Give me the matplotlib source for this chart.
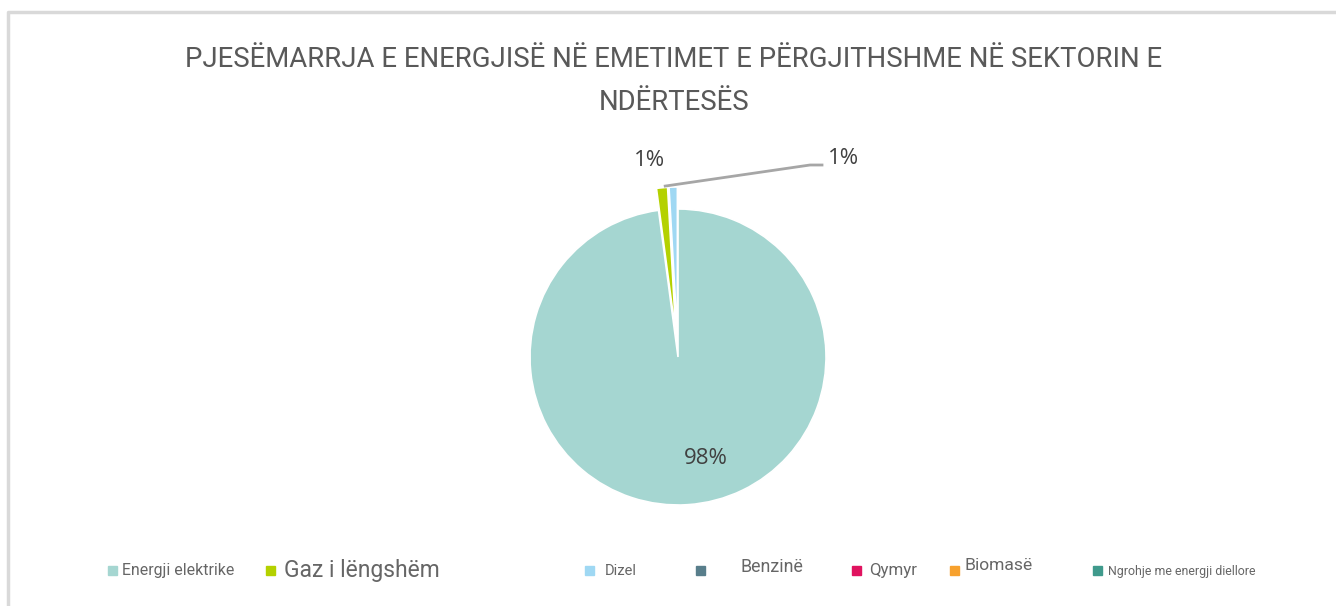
import matplotlib
matplotlib.use("Agg")
import numpy as np
import matplotlib.pyplot as plt
from matplotlib.patches import Rectangle

# data
categories = ["Energji elektrike", "Gaz i lëngshëm", "Dizel", "Benzinë",
              "Qymyr", "Biomasë", "Ngrohje me energji diellore"]
shares = [97.9, 1.2, 0.9, 0.0, 0.0, 0.0, 0.0]
labels_pct = ["98%", "1%", "1%"]
colors = ["#a5d6d1", "#b4d100", "#9fd8f3", "#587e8b", "#e0135f", "#f7a12e", "#3f9a8c"]

title = "PJESËMARRJA E ENERGJISË NË EMETIMET E PËRGJITHSHME NË SEKTORIN E\nNDËRTESËS"

W, H = 1336, 606
fig = plt.figure(figsize=(W / 100, H / 100), dpi=100)
ax = fig.add_axes([0, 0, 1, 1])

# chart frame (top and left edges only visible)
ax.plot([8, 8, W], [0, H - 12, H - 12], color="#d9d9d9", lw=2.5, solid_capstyle="butt")

fig.text(0.5045, 1 - 81 / H, title, ha="center", va="center", fontsize=19.8,
         color="#595959", family="Roboto", linespacing=1.75)

cx, cy, r = 678, H - 357, 148
nz = [v for v in shares if v > 0]
wedges, _ = ax.pie(nz, colors=colors[:len(nz)], startangle=90, counterclock=False,
                   radius=r, center=(cx, cy), explode=[0, 22, 22],
                   wedgeprops=dict(edgecolor="white", linewidth=1.2), frame=True)
ax.set_xlim(0, W)
ax.set_ylim(0, H)
ax.set_aspect("auto")
ax.axis("off")

lab_font = dict(fontsize=16, color="#404040", family="Open Sans", ha="center", va="center")
ax.text(706, H - 458, labels_pct[0], **lab_font)
ax.text(650, H - 160, labels_pct[1], **lab_font)
ax.text(843, H - 158, labels_pct[2], **lab_font)

# leader line for the Dizel slice, from the tip of the exploded slices
w = wedges[2]
th = np.deg2rad((w.theta1 + w.theta2) / 2)
sx, sy = w.center[0] + w.r * np.cos(th), w.center[1] + w.r * np.sin(th)
ax.plot([sx - 8, 810, 822], [sy + 1, H - 165, H - 165], color="#a6a6a6", lw=2)

# legend (hand placed, mixed sizes as in the original)
leg_pos = [(108, 122, 11.4), (266, 284, 16.5), (585, 605, 10.5), (696, 740, 12.8),
           (852, 869, 12.2), (950, 965, 12.6), (1093, 1108, 8.9)]
leg_y = [571, 571, 571, 567, 571, 566, 571]
for (bx, tx, fs), yy, name, c in zip(leg_pos, leg_y, categories, colors):
    ax.add_patch(Rectangle((bx, H - 575), 9, 9, color=c))
    ax.text(tx, H - yy, name, fontsize=fs, color="#666666", family="Roboto",
            ha="left", va="center")

fig.savefig("out.png", dpi=100)
